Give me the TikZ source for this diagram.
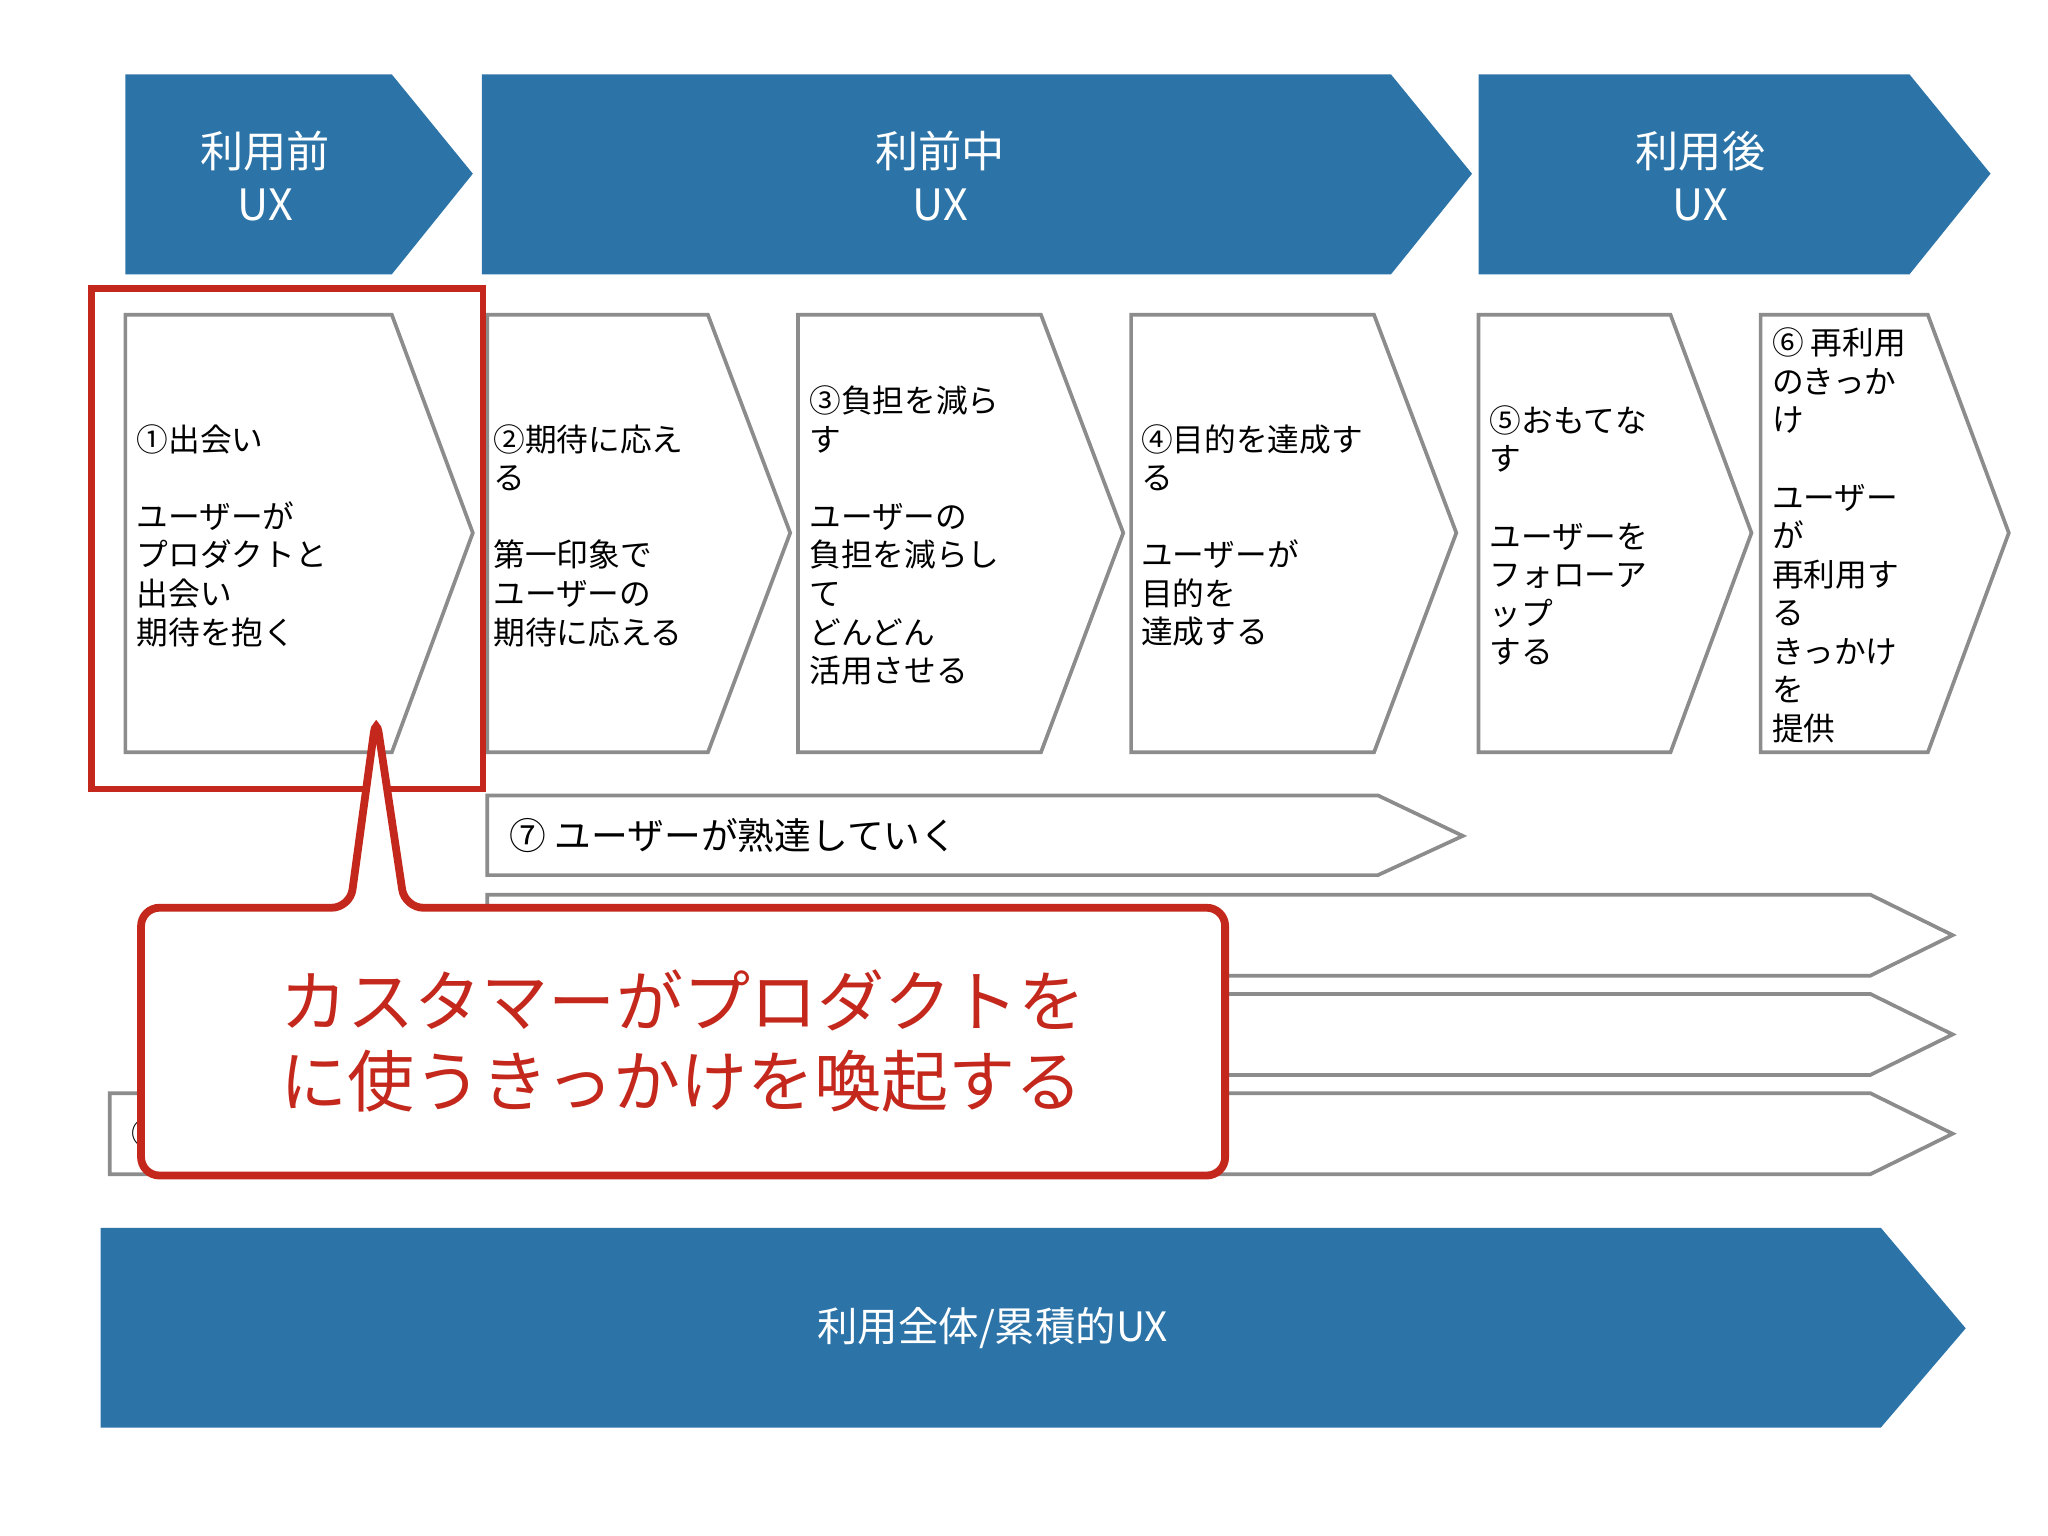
\documentclass[tikz,border=0pt]{standalone}
\usepackage{fontspec}
\setmainfont{Noto Sans CJK JP}
\definecolor{ublue}{RGB}{44,116,168}
\definecolor{ured}{RGB}{196,40,28}
\definecolor{ugray}{RGB}{140,140,140}
\tikzset{
 bluearr/.style={fill=ublue,draw=none},
 wbox/.style={fill=white,draw=ugray,line width=0.8pt},
 btext/.style={text=white,font=\fontsize{9.4}{11.5}\selectfont,align=center},
 ctext/.style={anchor=west,align=left,font=\fontsize{6.9}{8.4}\selectfont,inner sep=0pt}
}
\begin{document}
\begin{tikzpicture}[x=0.01cm,y=-0.01cm]
\useasboundingbox (0,0) rectangle (1568,1176);
\fill[white] (0,0) rectangle (1568,1176);
% top blue arrows
\fill[bluearr] (96,57)--(300,57)--(362,133)--(300,210)--(96,210)--cycle;
\fill[bluearr] (369,57)--(1065,57)--(1127,133)--(1065,210)--(369,210)--cycle;
\fill[bluearr] (1132,57)--(1462,57)--(1524,133)--(1462,210)--(1132,210)--cycle;
\node[btext] (t1) at (203,135) {利用前\\UX};
\node[btext] (t2) at (720,135) {利前中\\UX};
\node[btext] (t3) at (1302,135) {利用後\\UX};
% chevron boxes
\draw[wbox] (96,241)--(300,241)--(362,408)--(300,576)--(96,576)--cycle;
\draw[wbox] (373,241)--(542,241)--(605,408)--(542,576)--(373,576)--cycle;
\draw[wbox] (611,241)--(797,241)--(860,408)--(797,576)--(611,576)--cycle;
\draw[wbox] (866,241)--(1052,241)--(1115,408)--(1052,576)--(866,576)--cycle;
\draw[wbox] (1132,241)--(1279,241)--(1341,408)--(1279,576)--(1132,576)--cycle;
\draw[wbox] (1348,241)--(1476,241)--(1538,408)--(1476,576)--(1348,576)--cycle;
\node[ctext] (c1) at (104,410) {①出会い\\\\ユーザーが\\プロダクトと\\出会い\\期待を抱く};
\node[ctext] (c2) at (377,410) {②期待に応え\\る\\\\第一印象で\\ユーザーの\\期待に応える};
\node[ctext] (c3) at (619,410) {③負担を減ら\\す\\\\ユーザーの\\負担を減らし\\て\\どんどん\\活用させる};
\node[ctext] (c4) at (873,410) {④目的を達成す\\る\\\\ユーザーが\\目的を\\達成する};
\node[ctext] (c5) at (1140,410) {⑤おもてな\\す\\\\ユーザーを\\フォローア\\ップ\\する};
\node[ctext] (c6) at (1356,410) {⑥ 再利用\\のきっか\\け\\\\ユーザー\\が\\再利用す\\る\\きっかけ\\を\\提供};
% row arrows
\draw[wbox] (373,609)--(1055,609)--(1120,640)--(1055,670)--(373,670)--cycle;
\node[anchor=west,font=\fontsize{8}{10}\selectfont] (r7) at (378,640) {⑦ ユーザーが熟達していく};
\draw[wbox] (373,685)--(1432,685)--(1495,716)--(1432,747)--(373,747)--cycle;
\draw[wbox] (373,761)--(1432,761)--(1495,792)--(1432,823)--(373,823)--cycle;
\draw[wbox] (84,837)--(1432,837)--(1495,868)--(1432,899)--(84,899)--cycle;
\node[anchor=west,font=\fontsize{7}{8}\selectfont] (r10) at (88,868) {①};
% bottom arrow
\fill[bluearr] (77,940)--(1440,940)--(1505,1017)--(1440,1093)--(77,1093)--cycle;
\node[btext,font=\fontsize{8.8}{10}\selectfont] (bt) at (760,1017) {利用全体/累積的UX};
% red highlight
\draw[ured,line width=1.4pt] (70,221) rectangle (370,604);
% callout
\draw[ured,line width=1.7pt,fill=white,rounded corners=4] (268,695)--(288,548)--(310,695)--(938,695)--(938,900)--(108,900)--(108,695)--cycle;
\fill[white] (270,693) rectangle (308,700);
\node[text=ured,align=left,font=\fontsize{14.6}{17.4}\selectfont] (call) at (523,797) {カスタマーがプロダクトを\\に使うきっかけを喚起する};
\end{tikzpicture}
\end{document}
